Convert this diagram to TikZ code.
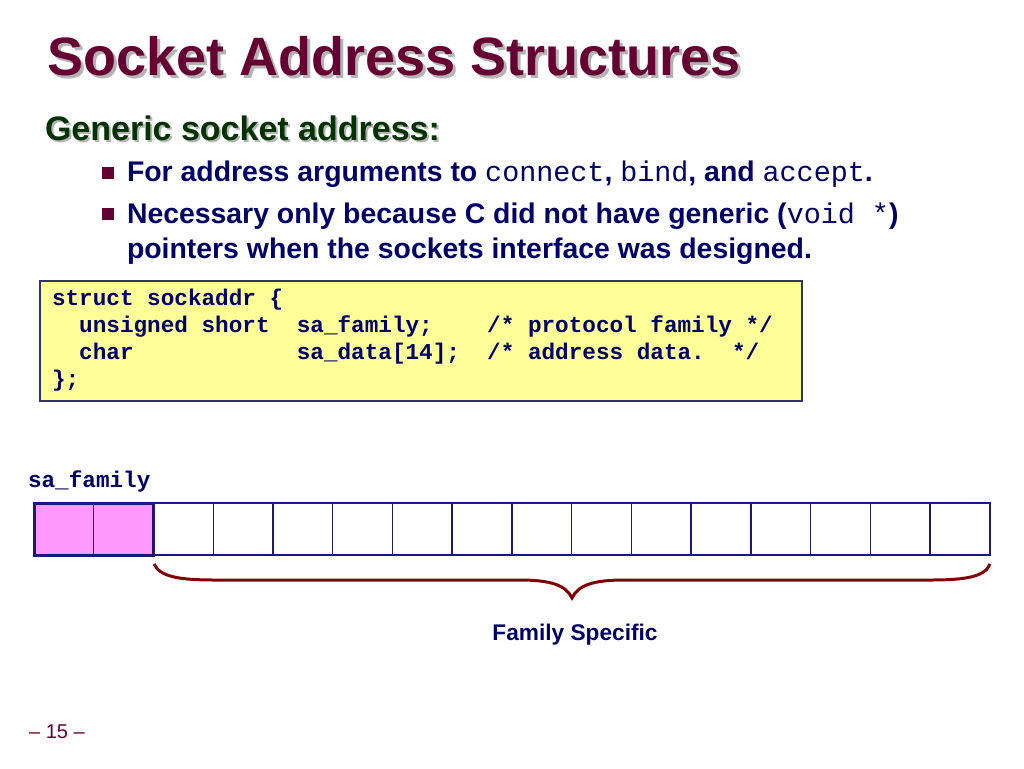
\documentclass[tikz,border=0pt]{standalone}
\usepackage{fontspec}
\setmainfont{Liberation Sans}
\setmonofont{Liberation Mono}
\usetikzlibrary{positioning}

\definecolor{titlered}{HTML}{660033}
\definecolor{shadowgrey}{HTML}{B4B4B4}
\definecolor{subgreen}{HTML}{003300}
\definecolor{navy}{HTML}{000066}
\definecolor{codeyellow}{HTML}{FFFF99}
\definecolor{codeframe}{HTML}{333366}
\definecolor{cellblue}{HTML}{1A1A70}
\definecolor{cellpink}{HTML}{FF99FF}
\definecolor{bracered}{HTML}{800000}

\newcommand{\ttword}[1]{{\ttfamily\mdseries #1}}

\tikzset{every picture/.style={line width=0.75pt}}
\tikzset{
  txt/.style={anchor=base west, inner sep=0pt, outer sep=0pt},
  heading/.style={txt, font=\fontsize{40.5}{48}\selectfont\bfseries},
  subheading/.style={txt, font=\fontsize{25.5}{30}\selectfont\bfseries},
  bullettext/.style={txt, text=navy, font=\fontsize{21.3}{26}\selectfont\bfseries},
  bulletsq/.style={fill=titlered, inner sep=0pt, minimum size=9.5pt},
  codeline/.style={txt, text=navy, font=\fontsize{17}{20}\selectfont\ttfamily\bfseries},
  cell/.style={draw=cellblue, line width=1.1pt, inner sep=0pt, outer sep=0pt,
    minimum width=44.81pt, minimum height=39pt},
  pinkcell/.style={cell, fill=cellpink},
}

\begin{document}
\begin{tikzpicture}[x=0.75pt,y=0.75pt,yscale=-1,xscale=1]
  \path[use as bounding box, fill=white] (0,0) rectangle (1024,768);

  % Title
  \node[heading, text=shadowgrey] (titleshadow) at (50,78) {Socket Address Structures};
  \node[heading, text=titlered] (title) at (47,75) {Socket Address Structures};
  % Subtitle
  \node[subheading, text=shadowgrey] (subshadow) at (47,142) {Generic socket address:};
  \node[subheading, text=subgreen] (subtitle) at (45,140) {Generic socket address:};

  % Bullets
  \node[bulletsq] (sq1) at (108,173) {};
  \node[bullettext] (point1) at (127,181) {For address arguments to \ttword{connect}, \ttword{bind}, and \ttword{accept}.};
  \node[bulletsq] (sq2) at (108,214) {};
  \node[bullettext] (point2) at (127,223) {Necessary only because C did not have generic (\ttword{void *})};
  \node[bullettext] (point2b) at (127,258) {pointers when the sockets interface was designed.};

  %Shape: Rectangle
  \draw[codeframe, fill=codeyellow, line width=1.1pt] (40,281) rectangle (802,401);
  % Code lines
  \node[codeline] (line1) at (52,305) {struct sockaddr \{};
  \node[codeline] (line2) at (52,332.3) {~~unsigned short~~sa\_family;~~~~/* protocol family */};
  \node[codeline] (line3) at (52,359.6) {~~char~~~~~~~~~~~~sa\_data[14];~~/* address data.~~*/};
  \node[codeline] (line4) at (52,386.9) {\};};

  % Byte cells
  \node[codeline] (famlabel) at (28,487) {sa\_family};
  \node[pinkcell, anchor=north west] (c1) at (34,503) {};
  \node[pinkcell, right=0pt of c1] (c2) {};
  \foreach \i [remember=\i as \j (initially 2)] in {3,...,16}
    \node[cell, right=0pt of c\j] (c\i) {};
  \draw[cellblue, line width=2.25pt] (c1.north west) rectangle (c2.south east);

  %Curve Lines
  \draw[bracered, line width=2.25pt]
    (154,564) .. controls (160,577) and (180,580) .. (215,580) -- (520,580)
    .. controls (550,580) and (566,585) .. (572,598)
    .. controls (578,585) and (594,580) .. (624,580) -- (930,580)
    .. controls (965,580) and (985,577) .. (990,564);

  \node[txt, anchor=base, text=navy, font=\fontsize{17}{20}\selectfont\bfseries] (famspec) at (575,640) {Family Specific};

  % Page number
  \node[txt, anchor=base, text=titlered, font=\fontsize{15}{18}\selectfont] (pagenum) at (57,738) {-- 15 --};
\end{tikzpicture}
\end{document}
